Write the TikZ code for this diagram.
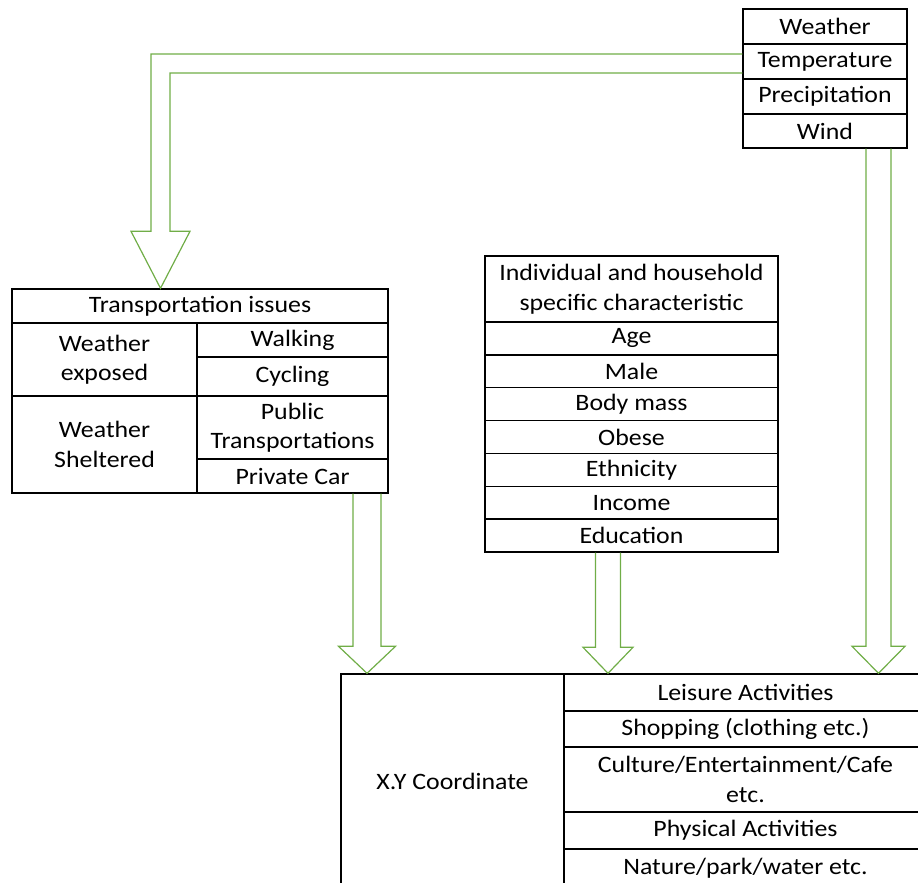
\documentclass[tikz,border=0pt]{standalone}
\usepackage{fontspec}
\setmainfont{Carlito}[FakeStretch=1.1]
\usetikzlibrary{calc}

\definecolor{flowgreen}{RGB}{112,173,71}

\tikzset{
  cell/.style={draw, line width=1.4pt, inner sep=0pt, align=center,
    font=\fontsize{23.5}{29.5}\selectfont},
  flow/.style={draw=flowgreen, line width=1.2pt, line join=miter},
}

% hollow block arrow: start, target, half shaft, half head, head length
\newcommand{\blkarrow}[5]{%
  \draw[flow] let \p1=(#1), \p2=(#2) in
    (\x1-#3pt,\y1) -- (\x1-#3pt,\y2+#5pt) -- (\x1-#4pt,\y2+#5pt) -- (\x1,\y2)
    -- (\x1+#4pt,\y2+#5pt) -- (\x1+#3pt,\y2+#5pt) -- (\x1+#3pt,\y1);}

\begin{document}
\begin{tikzpicture}[x=1pt,y=-1pt]
        \useasboundingbox (0,0) rectangle (918,883);
        \clip (0,0) rectangle (918,883);

        % weather
        \node[cell, minimum width=164, minimum height=35] (weather) at (825,26.5) {Weather};
        \node[cell, minimum width=164, minimum height=35] (temp) at (825,61.5) {Temperature};
        \node[cell, minimum width=164, minimum height=35] (precip) at (825,96.5) {Precipitation};
        \node[cell, minimum width=164, minimum height=34] (wind) at (825,131) {Wind};

        % transportation
        \node[cell, minimum width=376, minimum height=34] (trhead) at (200,306) {Transportation issues};
        \node[cell, minimum width=185, minimum height=73] (exposed) at (104.5,359.5) {Weather\\exposed};
        \node[cell, minimum width=185, minimum height=97] (sheltered) at (104.5,444.5) {Weather\\Sheltered};
        \node[cell, minimum width=191, minimum height=34] (walk) at (292.5,340) {Walking};
        \node[cell, minimum width=191, minimum height=39] (cycle) at (292.5,376.5) {Cycling};
        \node[cell, minimum width=191, minimum height=63] (public) at (292.5,427.5) {Public\\Transportations};
        \node[cell, minimum width=191, minimum height=34] (car) at (292.5,476) {Private Car};

        % individual
        \node[cell, minimum width=293, minimum height=66] (indhead) at (631.5,289) {Individual and household\\specific characteristic};
        \node[cell, minimum width=293, minimum height=32.86] (age) at (631.5,338.43) {Age};
        \node[cell, minimum width=293, minimum height=32.86] (male) at (631.5,371.29) {Male};
        \node[cell, minimum width=293, minimum height=32.86] (mass) at (631.5,404.14) {Body mass};
        \node[cell, minimum width=293, minimum height=32.86] (obese) at (631.5,437) {Obese};
        \node[cell, minimum width=293, minimum height=32.86] (ethnic) at (631.5,469.86) {Ethnicity};
        \node[cell, minimum width=293, minimum height=32.86] (income) at (631.5,502.71) {Income};
        \node[cell, minimum width=293, minimum height=32.86] (edu) at (631.5,535.57) {Education};

        % activities
        \node[cell, minimum width=223, minimum height=214] (xy) at (452.5,781) {X.Y Coordinate};
        \node[cell, minimum width=363, minimum height=37] (leisure) at (745.5,692.5) {Leisure Activities};
        \node[cell, minimum width=363, minimum height=36] (shop) at (745.5,729) {Shopping (clothing etc.)};
        \node[cell, minimum width=363, minimum height=65] (culture) at (745.5,779.5) {Culture/Entertainment/Cafe\\etc.};
        \node[cell, minimum width=363, minimum height=37] (physical) at (745.5,830.5) {Physical Activities};
        \node[cell, minimum width=363, minimum height=39] (nature) at (745.5,868.5) {Nature/park/water etc.};

        % arrows
        \draw[flow] let \p1=(temp.west), \p2=(trhead.north) in
            (\x1,\y1+7.5pt) -- (\x2-49pt,\y1+7.5pt) -- (\x2-49pt,\y2+57pt) -- (\x2-69pt,\y2+57pt)
            -- (\x2-39.5pt,\y2) -- (\x2-10pt,\y2+57pt) -- (\x2-30pt,\y2+57pt)
            -- (\x2-30pt,\y1-11.5pt) -- (\x1,\y1-11.5pt);
        \blkarrow{$(car.south)+(74.5,0)$}{xy.north}{14}{28.5}{27}
        \blkarrow{$(edu.south)+(-23.5,0)$}{leisure.north}{12.5}{25}{26}
        \blkarrow{$(wind.south)+(53.5,0)$}{leisure.north}{12.5}{26.5}{27}
    \end{tikzpicture}
\end{document}
